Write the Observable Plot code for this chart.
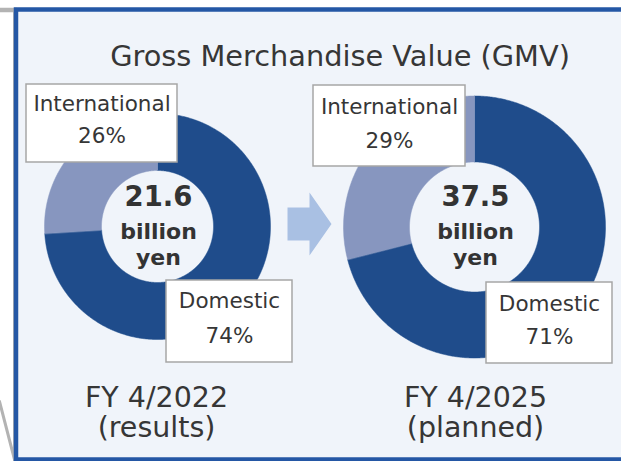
<!DOCTYPE html>
<html><head><meta charset="utf-8">
<script src="https://cdn.jsdelivr.net/npm/d3@7"></script>
<script src="https://cdn.jsdelivr.net/npm/@observablehq/plot@0.6"></script>
<style>html,body{margin:0;padding:0;background:#fff;overflow:hidden}</style>
</head><body><div id="chart"></div><script>
// ---- data ----
const title = "Gross Merchandise Value (GMV)";
const categories = ["Domestic", "International"];
const years = ["FY 4/2022", "FY 4/2025"];
const statuses = ["(results)", "(planned)"];
const totals = [21.6, 37.5];
const unitLines = ["billion", "yen"];
const domestic = [74, 71];
const international = [26, 29];

// ---- layout ----
const W = 621, H = 461;
const font = "'DejaVu Sans', Verdana, sans-serif";
const textColor = "#363636";
const sliceColors = ["#1f4c8b", "#8796bf"];
const donuts = [
  {cx: 157, cy: 226, r0: 56, r1: 113},
  {cx: 474, cy: 226.5, r0: 65, r1: 131}
];
const boxes = [ // per donut: [domestic box, international box]
  [{x1: 166, x2: 292, y1: 280, y2: 362, b1: 307, b2: 342},
   {x1: 26, x2: 177, y1: 84, y2: 162, b1: 110, b2: 142}],
  [{x1: 486, x2: 612, y1: 282, y2: 363, b1: 310, b2: 343},
   {x1: 313, x2: 465, y1: 85, y2: 166, b1: 113, b2: 147}]
];

// slices from the values
const slices = [];
years.forEach((yr, i) => {
  const vals = [domestic[i], international[i]];
  const arcs = d3.pie().sort(null)(vals);
  const g = donuts[i];
  arcs.forEach((a, j) => {
    const key = yr + "-" + categories[j];
    const steps = Math.max(2, Math.ceil((a.endAngle - a.startAngle) / (Math.PI / 360)));
    for (let k = 0; k <= steps; k++) {
      const t = a.startAngle + (a.endAngle - a.startAngle) * k / steps;
      slices.push({key, cat: categories[j], x: g.cx + g.r1 * Math.sin(t), y: g.cy - g.r1 * Math.cos(t)});
    }
    for (let k = steps; k >= 0; k--) {
      const t = a.startAngle + (a.endAngle - a.startAngle) * k / steps;
      slices.push({key, cat: categories[j], x: g.cx + g.r0 * Math.sin(t), y: g.cy - g.r0 * Math.cos(t)});
    }
  });
});

const boxRows = [], boxText = [];
years.forEach((yr, i) => {
  const vals = [domestic[i], international[i]];
  categories.forEach((c, j) => {
    const b = boxes[i][j];
    boxRows.push(b);
    const cx = (b.x1 + b.x2) / 2;
    boxText.push({x: cx, y: b.b1, text: c});
    boxText.push({x: cx, y: b.b2, text: vals[j] + "%"});
  });
});

const centerBig = totals.map((t, i) => ({x: donuts[i].cx + 1, y: 205, text: t.toFixed(1)}));
const centerSmall = [];
totals.forEach((t, i) => {
  unitLines.forEach((u, k) => centerSmall.push({x: donuts[i].cx + 1, y: 238 + k * 26, text: u}));
});
const fyText = [];
years.forEach((yr, i) => {
  fyText.push({x: [156, 475][i], y: 406, text: yr});
  fyText.push({x: [156, 475][i], y: 436, text: statuses[i]});
});

const arrow = [
  {x: 287, y: 207}, {x: 309, y: 207}, {x: 309, y: 192}, {x: 331, y: 223.5},
  {x: 309, y: 255}, {x: 309, y: 240}, {x: 287, y: 240}
];

const chart = Plot.plot({
  width: W, height: H, margin: 0,
  x: {domain: [0, W], range: [0, W], axis: null},
  y: {domain: [0, H], range: [0, H], axis: null},
  color: {domain: categories, range: sliceColors},
  style: {background: "#fff", fontFamily: font, overflow: "hidden"},
  marks: [
    Plot.line([{x: 0, y: 9.5}, {x: 16, y: 9.5}], {x: "x", y: "y", stroke: "#b3b3b3", strokeWidth: 4.5}),
    Plot.line([{x: -1, y: 401}, {x: 14, y: 459}], {x: "x", y: "y", stroke: "#b3b3b3", strokeWidth: 3}),
    Plot.line([{x: 13.3, y: 9}, {x: 13.3, y: 461}], {x: "x", y: "y", stroke: "#b3b3b3", strokeWidth: 1.5}),
    Plot.rect([{}], {x1: 16, x2: W + 20, y1: 9.5, y2: 459.5, fill: "#f0f4fa", stroke: "#2457a5", strokeWidth: 4.5}),
    Plot.line(slices, {x: "x", y: "y", z: "key", fill: "cat", stroke: "cat", strokeWidth: 0.5, curve: "linear-closed"}),
    Plot.line(arrow, {x: "x", y: "y", fill: "#a9c0e3", stroke: "none", curve: "linear-closed"}),
    Plot.rect(boxRows, {x1: "x1", x2: "x2", y1: "y1", y2: "y2", fill: "#fff", stroke: "#a6a6a6", strokeWidth: 1.5}),
    Plot.text([title], {x: 339.5, y: 65, text: d => d, fontSize: 28.8, fill: textColor, lineAnchor: "bottom"}),
    Plot.text(boxText, {x: "x", y: "y", text: "text", fontSize: 21.5, fill: textColor, lineAnchor: "bottom"}),
    Plot.text(centerBig, {x: "x", y: "y", text: "text", fontSize: 27.5, fontWeight: "bold", fill: "#333", lineAnchor: "bottom"}),
    Plot.text(centerSmall, {x: "x", y: "y", text: "text", fontSize: 22, fontWeight: "bold", fill: "#333", lineAnchor: "bottom"}),
    Plot.text(fyText, {x: "x", y: "y", text: "text", fontSize: 28.5, fill: textColor, lineAnchor: "bottom"})
  ]
});
document.getElementById("chart").appendChild(chart);
</script></body></html>
